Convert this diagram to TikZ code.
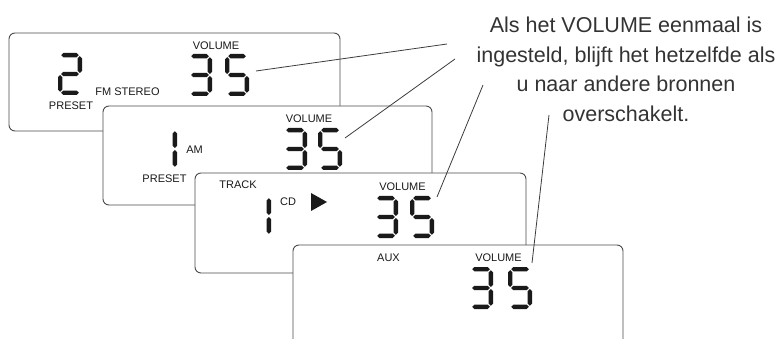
\documentclass[tikz,border=0pt]{standalone}
\usepackage{fontspec}
\setmainfont{Liberation Sans}
\usetikzlibrary{positioning}
\definecolor{frame}{HTML}{4A4A4A}
\definecolor{ink}{HTML}{1A1A1A}
\definecolor{notegray}{HTML}{333333}
\tikzset{
  panelbox/.style={draw=frame, line width=0.9pt, fill=white, rounded corners=6pt,
                   inner sep=0pt},
  lbl/.style={inner sep=0pt, text=ink, font=\fontsize{11}{12}\selectfont},
  note/.style={inner sep=0pt, align=center, text=notegray,
               font=\fontsize{21.5}{29.5}\selectfont},
  leader/.style={line width=0.8pt, draw=ink!85},
  lcdseg/.style={fill=ink},
  pics/hseg/.style={code={\fill[lcdseg] (0,0) -- (2.2,-2.2) -- (15.4,-2.2) -- (17.6,0)
                          -- (15.4,2.2) -- (2.2,2.2) -- cycle;}},
  pics/vseg/.style={code={\fill[lcdseg] (0,0) -- (2.2,2.2) -- (2.2,14.6) -- (0,16.8)
                          -- (-2.2,14.6) -- (-2.2,2.2) -- cycle;}},
  pics/lcd one/.style={code={
    \pic at (21.8,3.2) {vseg}; \pic at (21.8,22) {vseg};}},
  pics/lcd two/.style={code={
    \pic at (3.2,2.2) {hseg}; \pic at (3.2,21) {hseg}; \pic at (3.2,39.8) {hseg};
    \pic at (21.8,3.2) {vseg}; \pic at (2.2,22) {vseg};}},
  pics/lcd three/.style={code={
    \pic at (3.2,2.2) {hseg}; \pic at (3.2,21) {hseg}; \pic at (3.2,39.8) {hseg};
    \pic at (21.8,3.2) {vseg}; \pic at (21.8,22) {vseg};}},
  pics/lcd five/.style={code={
    \pic at (3.2,2.2) {hseg}; \pic at (3.2,21) {hseg}; \pic at (3.2,39.8) {hseg};
    \pic at (2.2,3.2) {vseg}; \pic at (21.8,22) {vseg};}}}

\begin{document}
\begin{tikzpicture}[x=1pt, y=-1pt]
  \useasboundingbox (0,0) rectangle (784,339);
  \clip (0,0) rectangle (784,339);

  % FM display
  \node[panelbox, minimum width=331pt, minimum height=98pt] (fm) at (174.5,82) {};
  \pic at (58,53) {lcd two};
  \node[lbl] (fmstereo) at (127.5,92) {FM STEREO};
  \node[lbl] (fmpreset) at (71,106) {PRESET};
  \node[lbl] (fmvol) at (216,46) {VOLUME};
  \pic at (188,54) {lcd three};
  \pic at (225,54) {lcd five};

  % AM display
  \node[panelbox, minimum width=329pt, minimum height=99pt] (am) at (267.5,155.5) {};
  \pic at (153,128) {lcd one};
  \node[lbl] (amband) at (194.5,150) {AM};
  \node[lbl] (ampreset) at (164.5,179) {PRESET};
  \node[lbl] (amvol) at (309,119) {VOLUME};
  \pic at (283,128) {lcd three};
  \pic at (318,128) {lcd five};

  % CD display
  \node[panelbox, minimum width=331pt, minimum height=100pt] (cd) at (360.5,223) {};
  \node[lbl] (cdtrack) at (238,185) {TRACK};
  \pic at (247,195) {lcd one};
  \node[lbl] (cdsrc) at (288,202) {CD};
  \fill[ink] (311,193) -- (327,202) -- (311,211) -- cycle;
  \node[lbl] (cdvol) at (402.5,187) {VOLUME};
  \pic at (374,196) {lcd three};
  \pic at (410,196) {lcd five};

  % AUX display
  \node[panelbox, minimum width=330pt, minimum height=110pt] (aux) at (458,300) {};
  \node[lbl] (auxsrc) at (388.5,258) {AUX};
  \node[lbl] (auxvol) at (498.5,258) {VOLUME};
  \pic at (469,267) {lcd three};
  \pic at (508,267) {lcd five};

  \node[note, anchor=north] (note) at (626,17)
    {Als het VOLUME eenmaal is\\ingesteld, blijft het hetzelfde als\\
     u naar andere bronnen\\overschakelt.};

  \coordinate (fmend) at (256,71);
  \coordinate (amend) at (345,138);
  \coordinate (cdend) at (437,197);
  \coordinate (auxend) at (532,263);
  \coordinate (tip1) at (447,44);
  \coordinate (tip2) at (455,59);
  \coordinate (tip3) at (483,85);
  \coordinate (tip4) at (549,115);
  \draw[leader] (fmend) -- (tip1);
  \draw[leader] (amend) -- (tip2);
  \draw[leader] (cdend) -- (tip3);
  \draw[leader] (auxend) -- (tip4);
\end{tikzpicture}
\end{document}
